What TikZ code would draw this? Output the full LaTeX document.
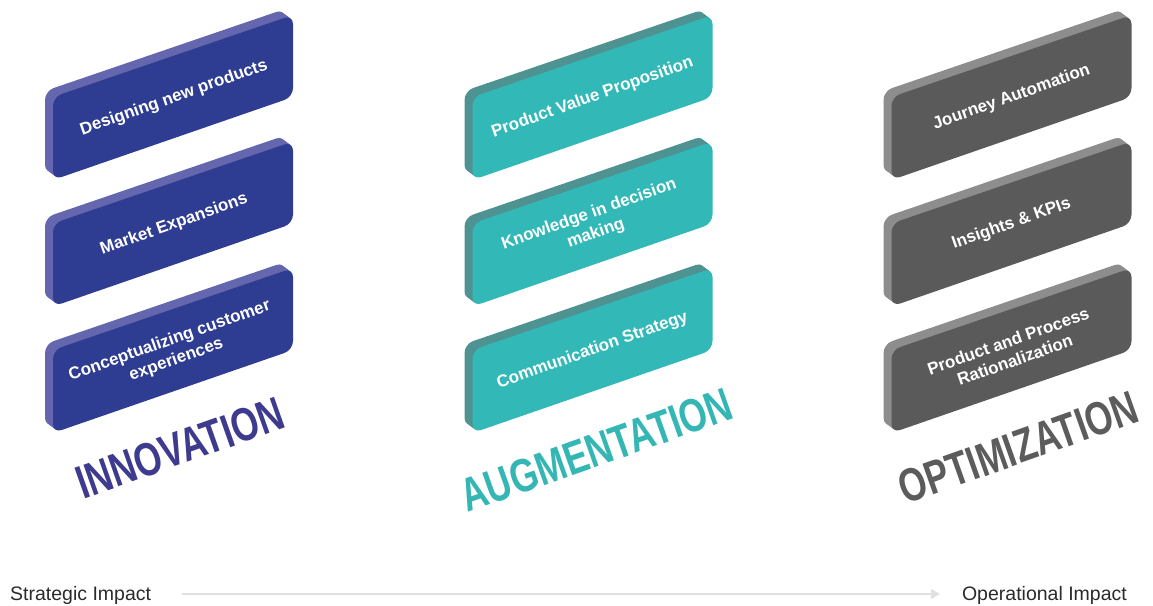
\documentclass[tikz,border=0pt]{standalone}
\usepackage{fontspec}
\setmainfont{Liberation Sans}
\usetikzlibrary{arrows.meta}
\definecolor{innF}{HTML}{2E3D91}
\definecolor{innS}{HTML}{6466AE}
\definecolor{innT}{HTML}{3E3A8D}
\definecolor{augF}{HTML}{33B8B8}
\definecolor{augS}{HTML}{4F9292}
\definecolor{augT}{HTML}{34B6B4}
\definecolor{optF}{HTML}{5A5A5A}
\definecolor{optS}{HTML}{8D8D8D}
\definecolor{optT}{HTML}{5C5C5C}
\definecolor{lblT}{HTML}{2A2A2A}
\definecolor{arrG}{HTML}{E0E0E0}
\newcommand\drawslab[4]{%
  \foreach \k in {8,7,...,1}{%
    \fill[#4,rounded corners=9pt,shift={({-\k},{-0.75*\k})}] (#1,#2+123.5) -- (#1,#2+82) -- (#1+240,#2) -- (#1+240,#2+82) -- (#1,#2+165) -- cycle;}%
  \fill[#3,rounded corners=9pt] (#1,#2+123.5) -- (#1,#2+82) -- (#1+240,#2) -- (#1+240,#2+82) -- (#1,#2+165) -- cycle;}
\tikzset{
  boxtext/.style={text=white, font=\fontsize{17}{20}\selectfont\bfseries, rotate=19.5, align=center, inner sep=0pt},
  titletext/.style={font=\fontsize{47}{47}\selectfont\bfseries, rotate=19.5, inner sep=0pt},
  impact/.style={font=\fontsize{19.5}{22}\selectfont, text=lblT, inner sep=0pt}
}
\begin{document}
\begin{tikzpicture}[x=1pt,y=-1pt]
\useasboundingbox (0,0) rectangle (1153,605);
% Innovation
\drawslab{53}{15}{innF}{innS}
\drawslab{53}{141.5}{innF}{innS}
\drawslab{53}{268}{innF}{innS}
% Augmentation
\drawslab{472.5}{15}{augF}{augS}
\drawslab{472.5}{141.5}{augF}{augS}
\drawslab{472.5}{268}{augF}{augS}
% Optimization
\drawslab{891.5}{15}{optF}{optS}
\drawslab{891.5}{141.5}{optF}{optS}
\drawslab{891.5}{268}{optF}{optS}
% box texts
\node[boxtext] (i1) at (174,98) {Designing new products};
\node[boxtext] (i2) at (174,224.5) {Market Expansions};
\node[boxtext] (i3) at (173,350.5) {Conceptualizing customer\\experiences};
\node[boxtext] (a1) at (592.5,97.5) {Product Value Proposition};
\node[boxtext] (a2) at (592.5,224) {Knowledge in decision\\making};
\node[boxtext] (a3) at (592.5,350.5) {Communication Strategy};
\node[boxtext] (o1) at (1011.5,97.5) {Journey Automation};
\node[boxtext] (o2) at (1011.5,224) {Insights \& KPIs};
\node[boxtext] (o3) at (1011.5,350.5) {Product and Process\\Rationalization};
% titles
\node[titletext, text=innT] (tin) at (180,448) {\scalebox{0.75}[1]{INNOVATION}};
\node[titletext, text=augT] (tau) at (596.5,450) {\scalebox{0.755}[1]{AUGMENTATION}};
\node[titletext, text=optT] (top) at (1018,447.5) {\scalebox{0.75}[1]{OPTIMIZATION}};
% impact axis
\node[impact, anchor=base west] (strat) at (10,600) {Strategic Impact};
\node[impact, anchor=base east] (oper) at (1127,600) {Operational Impact};
\draw[arrG, line width=1.3pt, -{Triangle[length=9pt,width=10pt]}] ([xshift=31pt]strat.east |- 0,594) -- ([xshift=-22pt]oper.west |- 0,594);
\end{tikzpicture}
\end{document}
